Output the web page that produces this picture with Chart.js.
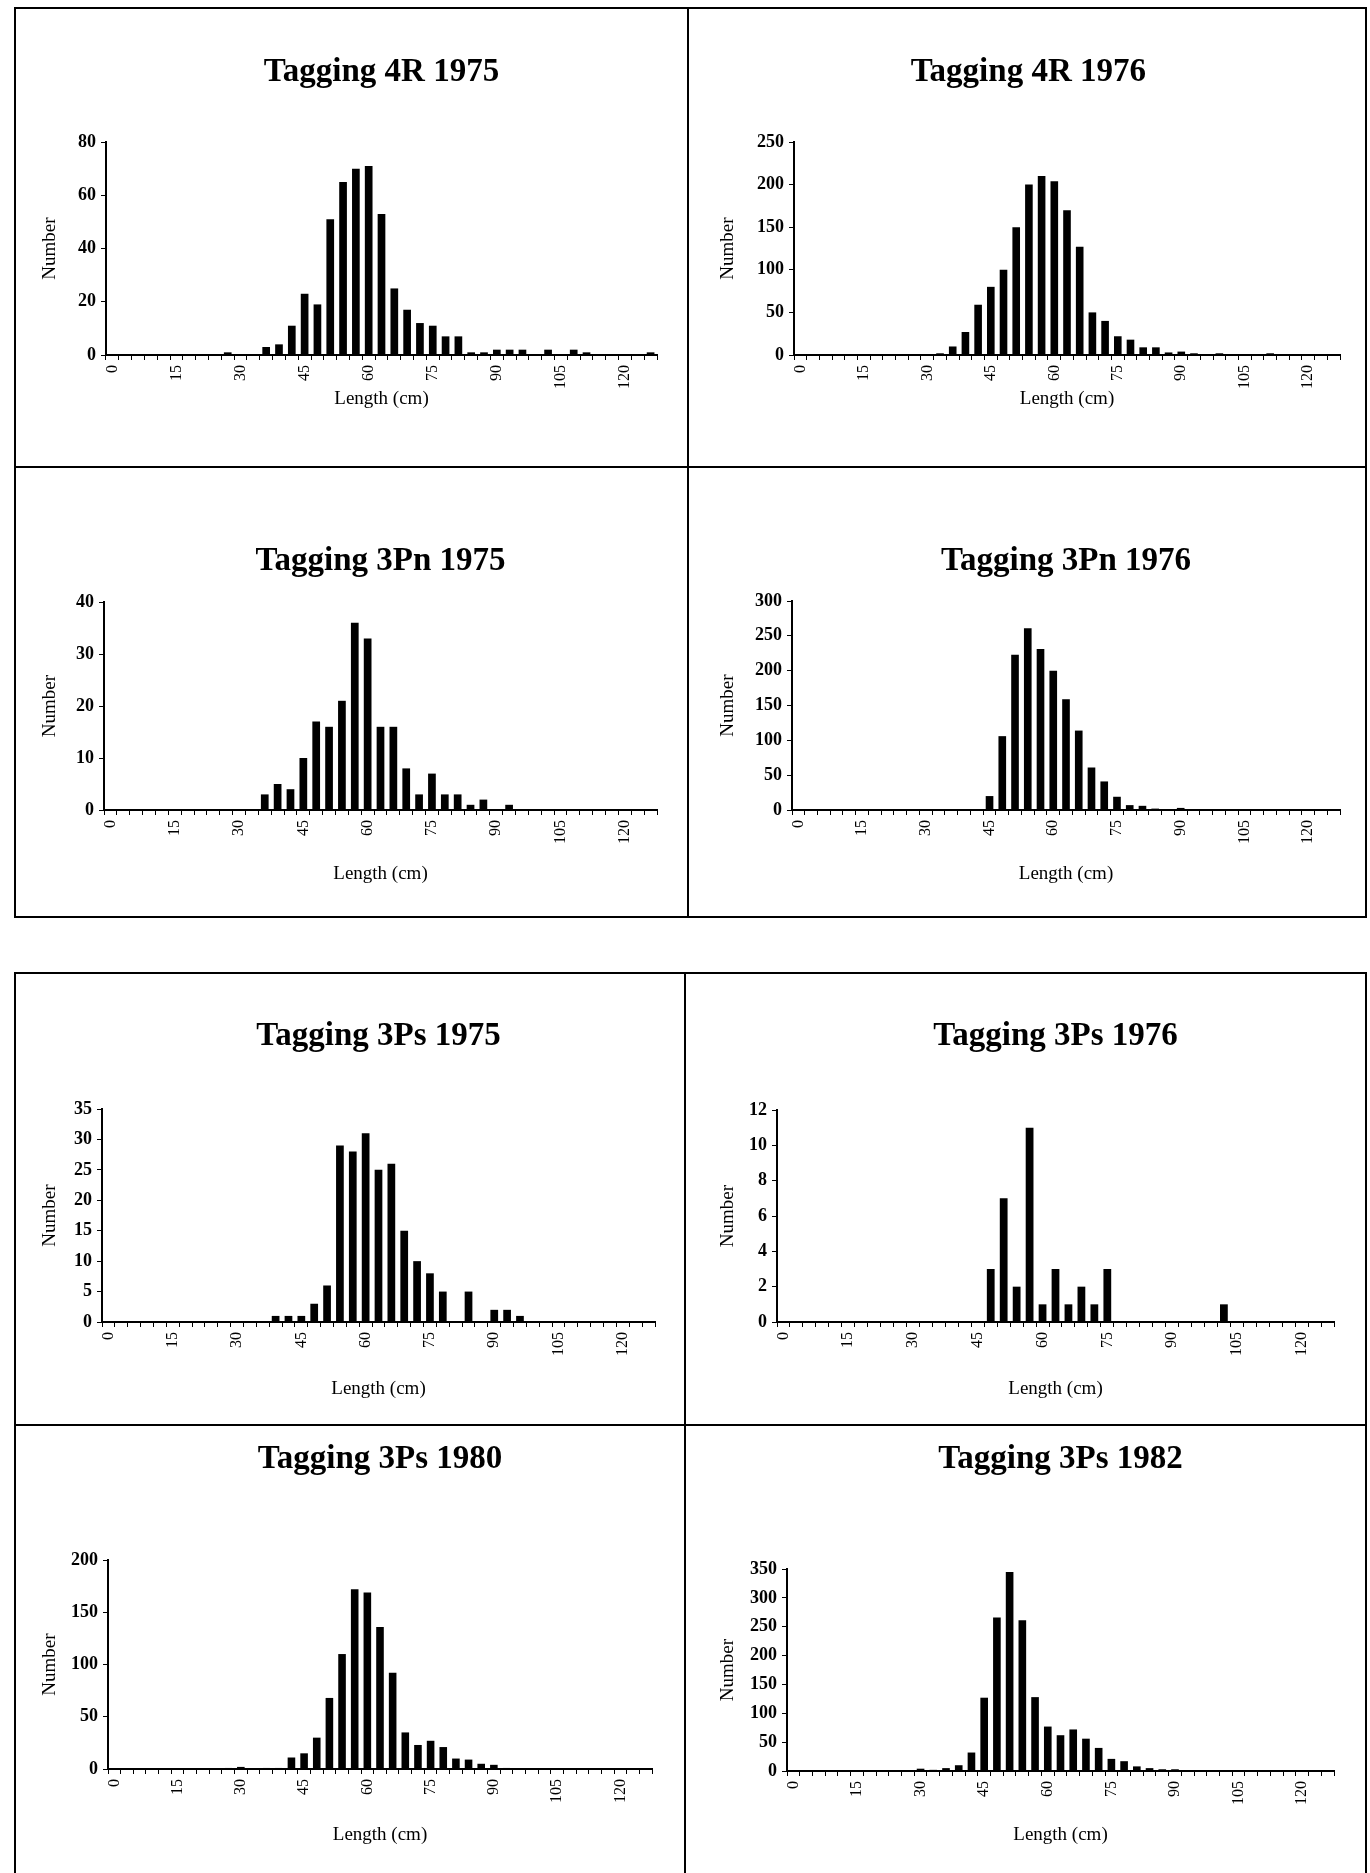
<!DOCTYPE html>
<html>
<head>
<meta charset="utf-8">
<script src="https://cdn.jsdelivr.net/npm/chart.js@4.4.0/dist/chart.umd.min.js"></script>
<style>
  body { margin: 0; background: #fff; width: 1370px; height: 1873px; position: relative; overflow: hidden; }
  .panel { position: absolute; border: 2px solid #000; box-sizing: border-box; }
  .panel canvas { position: absolute; left: 0; top: 0; }
</style>
</head>
<body>
<script>
// Length classes (3 cm bins) and the labels shown on the axis
const lengthBins = ['0','3','6','9','12','15','18','21','24','27','30','33','36','39','42','45','48','51','54','57','60',
                    '63','66','69','72','75','78','81','84','87','90','93','96','99','102','105','108','111','114','117','120','123','126'];
const shownTicks = ['0','15','30','45','60','75','90','105','120'];

// Numbers tagged per length class
const tag4R1975  = [0,0,0,0,0,0,0,0,0,1, 0,0,3,4,11,23,19,51,65,70, 71,53,25,17,12,11,7,7,1,1, 2,2,2,0,2,0,2,1,0,0, 0,0,1];
const tag4R1976  = [0,0,0,0,0,0,0,0,1,0, 1,2,10,27,59,80,100,150,200,210, 204,170,127,50,40,22,18,9,9,3, 4,2,1,2,1,1,0,2,1,0, 0,0,0];
const tag3Pn1975 = [0,0,0,0,0,0,0,0,0,0, 0,0,3,5,4,10,17,16,21,36, 33,16,16,8,3,7,3,3,1,2, 0,1,0,0,0,0,0,0,0,0, 0,0,0];
const tag3Pn1976 = [0,0,0,0,0,0,0,0,0,0, 0,1,0,0,1,20,106,223,261,231, 200,159,114,61,41,19,7,6,2,1, 3,0,1,0,1,0,0,0,0,0, 0,0,0];
const tag3Ps1975 = [0,0,0,0,0,0,0,0,0,0, 0,0,0,1,1,1,3,6,29,28, 31,25,26,15,10,8,5,0,5,0, 2,2,1,0,0,0,0,0,0,0, 0,0,0];
const tag3Ps1976 = [0,0,0,0,0,0,0,0,0,0, 0,0,0,0,0,0,3,7,2,11, 1,3,1,2,1,3,0,0,0,0, 0,0,0,0,1,0,0,0,0,0, 0,0,0];
const tag3Ps1980 = [0,0,0,0,0,0,0,0,0,1, 2,0,1,1,11,15,30,68,110,172, 169,136,92,35,23,27,21,10,9,5, 4,1,0,0,0,0,0,0,0,0, 0,0,0];
const tag3Ps1982 = [0,1,1,1,0,0,0,0,0,0, 4,2,5,10,32,127,266,345,261,128, 77,62,72,56,40,21,17,8,5,3, 3,1,0,0,0,0,0,0,0,0, 0,0,0];

const SERIF = '"Liberation Serif", "Times New Roman", serif';

// panel frame (page px), plot area, title / axis title positions (page px)
const paneles = [
  { titulo: 'Tagging 4R 1975',  datos: tag4R1975,  yMax: 80,  paso: 20, caja: [14, 7, 675, 461],   plot: [106, 657, 142, 355],   tY: 72,   xtY: 399,  ytX: 50,  ancho: false },
  { titulo: 'Tagging 4R 1976',  datos: tag4R1976,  yMax: 250, paso: 50, caja: [687, 7, 680, 461],  plot: [794, 1340, 142, 355],  tY: 72,   xtY: 399,  ytX: 728, ancho: true },
  { titulo: 'Tagging 3Pn 1975', datos: tag3Pn1975, yMax: 40,  paso: 10, caja: [14, 466, 675, 452], plot: [104, 657, 602, 810],   tY: 561,  xtY: 874,  ytX: 50,  ancho: false },
  { titulo: 'Tagging 3Pn 1976', datos: tag3Pn1976, yMax: 300, paso: 50, caja: [687, 466, 680, 452],plot: [792, 1340, 601, 810],  tY: 561,  xtY: 874,  ytX: 728, ancho: false },
  { titulo: 'Tagging 3Ps 1975', datos: tag3Ps1975, yMax: 35,  paso: 5,  caja: [14, 972, 672, 454], plot: [102, 655, 1109, 1322], tY: 1036, xtY: 1389, ytX: 50,  ancho: false },
  { titulo: 'Tagging 3Ps 1976', datos: tag3Ps1976, yMax: 12,  paso: 2,  caja: [684, 972, 683, 454],plot: [777, 1334, 1110, 1322],tY: 1036, xtY: 1389, ytX: 728, ancho: false },
  { titulo: 'Tagging 3Ps 1980', datos: tag3Ps1980, yMax: 200, paso: 50, caja: [14, 1424, 672, 452],plot: [108, 652, 1560, 1769], tY: 1459, xtY: 1835, ytX: 50,  ancho: false },
  { titulo: 'Tagging 3Ps 1982', datos: tag3Ps1982, yMax: 350, paso: 50, caja: [684, 1424, 683, 452],plot: [787, 1334, 1569, 1771],tY: 1459, xtY: 1835, ytX: 728, ancho: false }
];

paneles.forEach(p => crearPanel(p));

function crearPanel(p) {
    const [bx, by, bw, bh] = p.caja;
    const div = document.createElement('div');
    div.className = 'panel';
    div.style.left = bx + 'px';
    div.style.top = by + 'px';
    div.style.width = bw + 'px';
    div.style.height = bh + 'px';
    document.body.appendChild(div);

    const W = bw - 4, H = bh - 4;
    const ox = bx + 2, oy = by + 2;
    const canvas = document.createElement('canvas');
    canvas.width = W;
    canvas.height = H;
    div.appendChild(canvas);

    // plot area relative to the canvas
    const left = p.plot[0] - ox, right = p.plot[1] - ox;
    const top = p.plot[2] - oy, bottom = p.plot[3] - oy;
    const tituloY = p.tY - oy;
    const tamTitulo = 33, medioTitulo = tamTitulo * 1.2 / 2;
    const ejeTitulo = 19, lh = ejeTitulo * 1.2;
    const padIzq = Math.max(0, p.ytX - ox - lh / 2);
    const altoX = (p.xtY - oy) + lh / 2 - bottom;
    const anchoY = left - padIzq;

    new Chart(canvas.getContext('2d'), {
        type: 'bar',
        data: {
            labels: lengthBins,
            datasets: [{
                data: p.datos,
                backgroundColor: '#000',
                borderWidth: 0,
                barPercentage: 0.6,
                categoryPercentage: 1
            }]
        },
        options: {
            responsive: false,
            animation: false,
            devicePixelRatio: 1,
            layout: {
                padding: { left: padIzq, right: W - right, top: 0, bottom: Math.max(0, H - bottom - altoX) }
            },
            plugins: {
                legend: { display: false },
                tooltip: { enabled: false },
                title: {
                    display: true,
                    text: p.titulo,
                    color: '#000',
                    fullSize: p.ancho,
                    font: { family: SERIF, size: tamTitulo, weight: 'bold', lineHeight: 1.2 },
                    padding: { top: tituloY - medioTitulo, bottom: top - tituloY - medioTitulo }
                }
            },
            scales: {
                x: {
                    offset: true,
                    grid: { offset: true, drawOnChartArea: false, drawTicks: true, tickLength: 5, color: '#000', lineWidth: 1 },
                    border: { display: true, color: '#000', width: 2 },
                    ticks: {
                        autoSkip: false,
                        maxRotation: 90,
                        minRotation: 90,
                        padding: 5,
                        color: '#000',
                        font: { family: SERIF, size: 16 },
                        callback: function (v) {
                            const l = this.getLabelForValue(v);
                            return shownTicks.includes(l) ? l : '';
                        }
                    },
                    title: { display: true, text: 'Length (cm)', color: '#000', padding: 0, font: { family: SERIF, size: ejeTitulo } },
                    afterFit: s => { s.height = altoX; }
                },
                y: {
                    min: 0,
                    max: p.yMax,
                    grid: { drawOnChartArea: false, drawTicks: true, tickLength: 5, color: '#000', lineWidth: 1 },
                    border: { display: true, color: '#000', width: 2 },
                    ticks: { stepSize: p.paso, padding: 5, color: '#000', font: { family: SERIF, size: 18, weight: 'bold' } },
                    title: { display: true, text: 'Number', color: '#000', padding: 0, font: { family: SERIF, size: ejeTitulo } },
                    afterFit: s => { s.width = anchoY; }
                }
            }
        }
    });
}
</script>
</body>
</html>
